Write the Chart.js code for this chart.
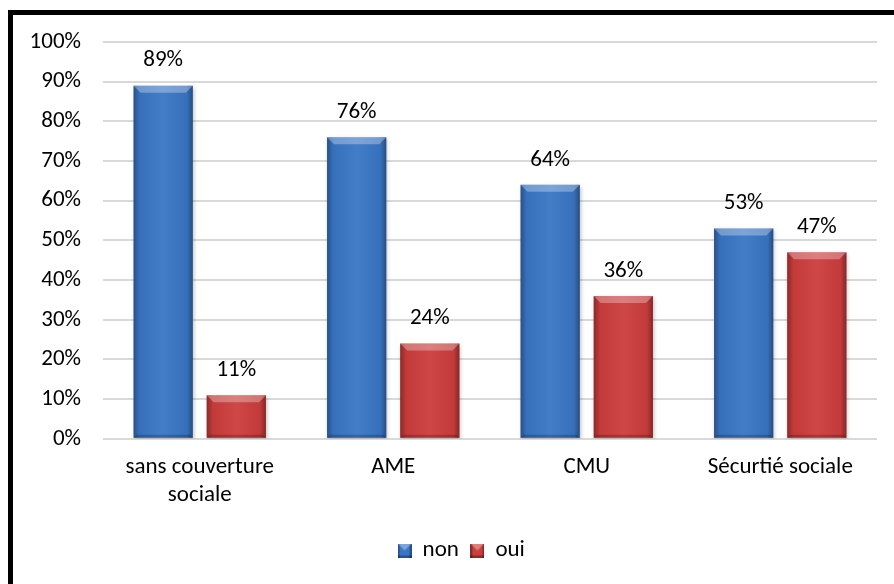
<!DOCTYPE html>
<html>
<head>
<meta charset="utf-8">
<script src="https://cdn.jsdelivr.net/npm/chart.js@4"></script>
<style>
  html, body { margin: 0; padding: 0; overflow: hidden; background: #fff; }
  #frame { position: absolute; left: 8px; top: 10px; width: 900px; height: 600px; border: 5px solid #000; }
  #wrap { position: absolute; left: 0; top: 0; width: 894px; height: 584px; }
</style>
</head>
<body>
<div id="frame"></div>
<div id="wrap"><canvas id="couverture"></canvas></div>
<script>
// couverture sociale : non / oui
const categories = [
    ['sans couverture', 'sociale'],
    'AME',
    'CMU',
    'Sécurtié sociale',
];
const seriesNames = ['non', 'oui'];
const valuesNon = [89, 76, 64, 53];
const valuesOui = [11, 24, 36, 47];

const FONT = 'Calibri, Carlito, Lato, sans-serif';
const BLUE = '#3a76c4';
const RED = '#cc3d3d';

// small beveled square for the legend
function legendMarker(color) {
    const c = document.createElement('canvas');
    c.width = 14;
    c.height = 14;
    const g = c.getContext('2d');
    g.fillStyle = color;
    g.fillRect(0, 0, 14, 14);
    g.fillStyle = 'rgba(0,0,0,0.3)';
    g.fillRect(0, 0, 2, 14);
    g.fillRect(12, 0, 2, 14);
    g.fillRect(0, 12, 14, 2);
    g.fillStyle = 'rgba(255,255,255,0.35)';
    g.beginPath();
    g.moveTo(0, 0);
    g.lineTo(14, 0);
    g.lineTo(7, 7);
    g.closePath();
    g.fill();
    return c;
}

// shading on top of the plain bars (bevel look)
const bevelPlugin = {
    id: 'bevel',
    afterLayout(chart) {
        // legend sits a bit right of centre in the original
        chart.legend.left += 23;
        chart.legend.right += 23;
    },
    beforeDatasetsDraw(chart) {
        const ctx = chart.ctx;
        ctx.save();
        ctx.shadowColor = 'rgba(0,0,0,0.25)';
        ctx.shadowBlur = 4;
        ctx.shadowOffsetX = 1;
        ctx.shadowOffsetY = 2;
    },
    afterDatasetsDraw(chart) {
        const ctx = chart.ctx;
        ctx.restore();
        chart.data.datasets.forEach((ds, i) => {
            const meta = chart.getDatasetMeta(i);
            meta.data.forEach((bar) => {
                const left = bar.x - bar.width / 2;
                const right = bar.x + bar.width / 2;
                const top = bar.y;
                const bottom = bar.base;
                const h = bottom - top;
                ctx.save();
                const g = ctx.createLinearGradient(left, 0, right, 0);
                g.addColorStop(0, 'rgba(0,0,0,0.32)');
                g.addColorStop(0.1, 'rgba(0,0,0,0.05)');
                g.addColorStop(0.5, 'rgba(255,255,255,0.05)');
                g.addColorStop(0.9, 'rgba(0,0,0,0.05)');
                g.addColorStop(1, 'rgba(0,0,0,0.35)');
                ctx.fillStyle = g;
                ctx.fillRect(left, top, bar.width, h);
                // top bevel
                const b = Math.min(7, h / 2);
                ctx.fillStyle = 'rgba(255,255,255,0.3)';
                ctx.beginPath();
                ctx.moveTo(left, top);
                ctx.lineTo(right, top);
                ctx.lineTo(right - b, top + b);
                ctx.lineTo(left + b, top + b);
                ctx.closePath();
                ctx.fill();
                // bottom bevel
                ctx.fillStyle = 'rgba(0,0,0,0.2)';
                ctx.beginPath();
                ctx.moveTo(left, bottom);
                ctx.lineTo(right, bottom);
                ctx.lineTo(right - 3, bottom - 3);
                ctx.lineTo(left + 3, bottom - 3);
                ctx.closePath();
                ctx.fill();
                ctx.restore();
            });
        });
    }
};

// value labels above the bars
const valueLabels = {
    id: 'valueLabels',
    afterDatasetsDraw(chart) {
        const ctx = chart.ctx;
        ctx.save();
        ctx.font = '23px ' + FONT;
        ctx.fillStyle = '#000';
        ctx.textAlign = 'center';
        ctx.textBaseline = 'middle';
        chart.data.datasets.forEach((ds, i) => {
            chart.getDatasetMeta(i).data.forEach((bar, j) => {
                ctx.fillText(ds.data[j] + '%', bar.x, bar.y - 25);
            });
        });
        ctx.restore();
    }
};

Chart.defaults.color = '#000000';
Chart.defaults.font.family = FONT;
Chart.defaults.font.size = 23;

const data = {
    labels: categories,
    datasets: [{
        label: seriesNames[0],
        data: valuesNon,
        backgroundColor: BLUE,
        pointStyle: legendMarker(BLUE),
        categoryPercentage: 0.756,
        barPercentage: 0.81
    }, {
        label: seriesNames[1],
        data: valuesOui,
        backgroundColor: RED,
        pointStyle: legendMarker(RED),
        categoryPercentage: 0.756,
        barPercentage: 0.81
    }]
};

const config = {
    type: 'bar',
    data: data,
    options: {
        responsive: true,
        maintainAspectRatio: false,
        animation: false,
        layout: {
            padding: { top: 42, right: 17, bottom: 12, left: 0 }
        },
        scales: {
            x: {
                grid: { display: false },
                border: { display: false },
                afterFit(scale) { scale.height += 11; },
                ticks: { padding: 7 }
            },
            y: {
                min: 0,
                max: 100,
                afterFit(scale) { scale.width = 103; },
                grid: { color: '#d9d9d9', lineWidth: 2, drawTicks: false },
                border: { display: false },
                ticks: {
                    stepSize: 10,
                    padding: 22,
                    callback: (v) => v + '%'
                }
            }
        },
        plugins: {
            legend: {
                position: 'bottom',
                labels: { usePointStyle: true, boxWidth: 13, boxHeight: 13, padding: 12 }
            },
            tooltip: { enabled: false }
        }
    },
    plugins: [bevelPlugin, valueLabels]
};

const myChart = new Chart(
    document.getElementById('couverture'),
    config
);
</script>
</body>
</html>
